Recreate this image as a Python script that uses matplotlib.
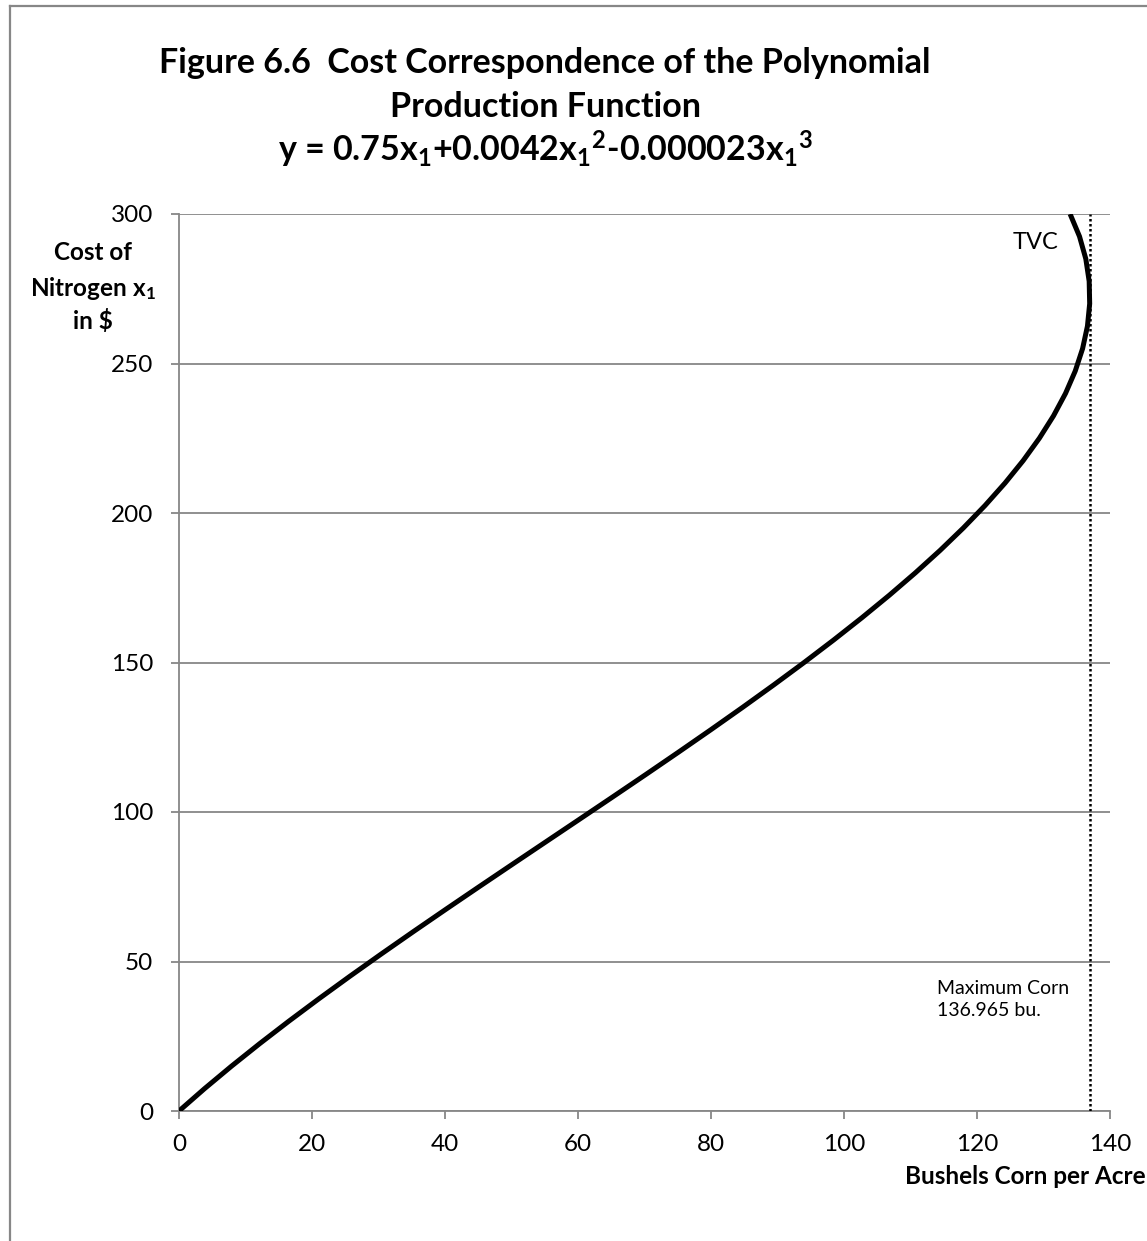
import matplotlib.pyplot as plt
from matplotlib.lines import Line2D


# cost of nitrogen ($) and the matching bushels of corn per acre
costs = [0, 7.5, 15, 22.5, 30, 37.5, 45, 52.5, 60, 67.5, 75, 82.5, 90, 97.5,
         105, 112.5, 120, 127.5, 135, 142.5, 150, 157.5, 165, 172.5, 180,
         187.5, 195, 202.5, 210, 217.5, 225, 232.5, 240, 247.5, 255, 262.5,
         270, 277.5, 285, 292.5, 300]
bushels = [0, 3.852, 7.897, 12.117, 16.496, 21.016, 25.659, 30.409, 35.248,
           40.159, 45.125, 50.128, 55.152, 60.179, 65.191, 70.172, 75.104,
           79.970, 84.753, 89.435, 94.0, 98.430, 102.707, 106.815, 110.736,
           114.453, 117.949, 121.206, 124.208, 126.937, 129.375, 131.506,
           133.312, 134.776, 135.881, 136.609, 136.944, 136.868, 136.363,
           135.413, 134.0]

max_corn = 136.965
x_ticks = [0, 20, 40, 60, 80, 100, 120, 140]
y_ticks = [0, 50, 100, 150, 200, 250, 300]

title_lines = [
    "Figure 6.6  Cost Correspondence of the Polynomial",
    "Production Function",
    r"y = 0.75x$_\mathbf{1}$+0.0042x$_\mathbf{1}$$^\mathbf{2}$"
    r"-0.000023x$_\mathbf{1}$$^\mathbf{3}$",
]
ylabel_lines = ["Cost of", r"Nitrogen x$_\mathbf{1}$", r"in \$"]

GRAY = "#878787"
FONTS = ["Lato", "DejaVu Sans"]


def main():
    plt.rcParams["font.family"] = FONTS
    plt.rcParams["mathtext.fontset"] = "custom"
    plt.rcParams["mathtext.rm"] = "Lato"
    plt.rcParams["mathtext.it"] = "Lato:italic"
    plt.rcParams["mathtext.bf"] = "Lato:bold"

    W, H = 1147, 1241
    fig = plt.figure(figsize=(W / 100, H / 100), dpi=100)
    ax = fig.add_axes([179 / W, 1 - 1111 / H, 931 / W, 897 / H])

    ax.plot(bushels, costs, color="black", lw=3.6, solid_capstyle="butt", zorder=3)
    ax.plot([max_corn, max_corn], [0, 300], color="black", lw=1.8,
            linestyle=(0, (1, 1)), zorder=3)

    ax.set_xlim(0, 140)
    ax.set_ylim(0, 300)
    ax.set_xticks(x_ticks)
    ax.set_yticks(y_ticks)
    ax.yaxis.grid(True, color=GRAY, lw=1.3)
    ax.set_axisbelow(True)

    for side in ["top", "right"]:
        ax.spines[side].set_visible(False)
    for side in ["left", "bottom"]:
        ax.spines[side].set_color(GRAY)
        ax.spines[side].set_linewidth(1.3)

    ax.tick_params(axis="both", direction="out", length=5.5, width=1.3,
                   color=GRAY, labelsize=17.5, labelcolor="black")
    ax.tick_params(axis="y", pad=13)
    ax.tick_params(axis="x", pad=11)

    ax.text(125.4, 290.6, "TVC", fontsize=17, va="center", ha="left")
    ax.text(114.0, 37.3, "Maximum Corn\n136.965 bu.", fontsize=14,
            va="center", ha="left", linespacing=1.3)

    # title, three centered lines
    for line, y_px in zip(title_lines, [73, 117, 161]):
        fig.text(545 / W, 1 - y_px / H, line, fontsize=24.5, fontweight="bold",
                 ha="center", va="baseline")

    for line, y_px in zip(ylabel_lines, [253, 288, 321]):
        fig.text(93 / W, 1 - y_px / H, line, fontsize=17.5, fontweight="bold",
                 ha="center", va="center")

    fig.text(1146 / W, 1 - 1177 / H, "Bushels Corn per Acre", fontsize=17.5,
             fontweight="bold", ha="right", va="center")

    # chart border (only left and top fall inside the image)
    fig.add_artist(Line2D([9.5 / W, 9.5 / W], [0, 1 - 6 / H], color=GRAY,
                          lw=1.6, transform=fig.transFigure))
    fig.add_artist(Line2D([9.5 / W, 1], [1 - 6 / H, 1 - 6 / H], color=GRAY,
                          lw=1.6, transform=fig.transFigure))

    fig.savefig("out.png", dpi=100)


if __name__ == "__main__":
    main()
